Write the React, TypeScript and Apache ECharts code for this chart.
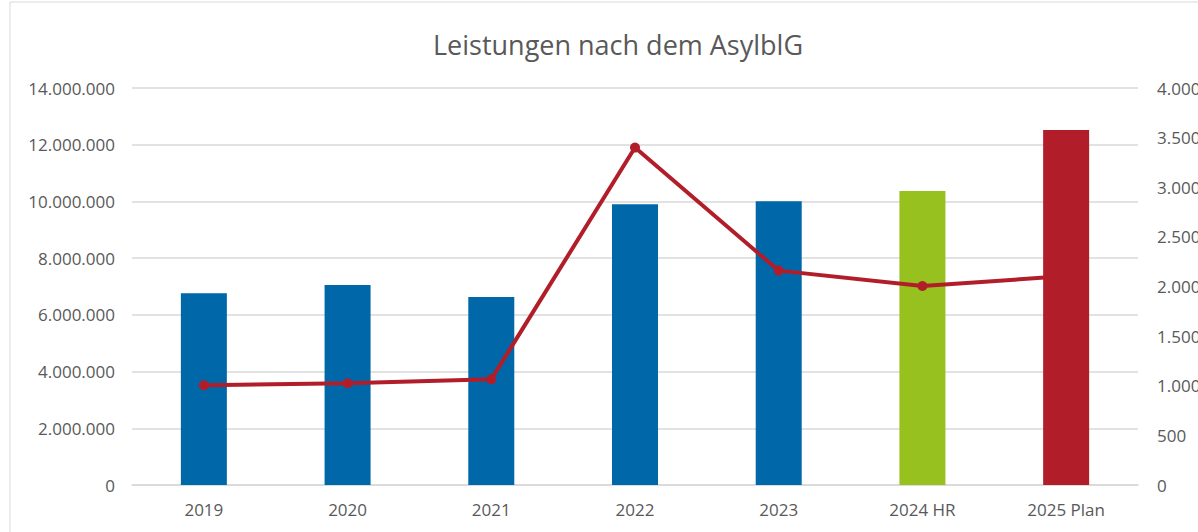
import React, { useEffect, useRef } from "react";
import * as echarts from "echarts";

const categories = ["2019", "2020", "2021", "2022", "2023", "2024 HR", "2025 Plan"];
const barValues = [6760000, 7050000, 6630000, 9900000, 10010000, 10370000, 12520000];
const barColors = ["#0068a8", "#0068a8", "#0068a8", "#0068a8", "#0068a8", "#97c11f", "#b11e2a"];
const lineValues = [1005, 1025, 1065, 3400, 2160, 2005, 2105];
const leftTicks = { min: 0, max: 14000000, interval: 2000000 };
const rightTicks = { min: 0, max: 4000, interval: 500 };
const title = "Leistungen nach dem AsylblG";

const fmt = (v: number) => String(Math.round(v)).replace(/\B(?=(\d{3})+(?!\d))/g, ".");

export default function App() {
  const ref = useRef<HTMLDivElement>(null);
  useEffect(() => {
    document.body.style.margin = "0";
    const chart = echarts.init(ref.current!, null, { renderer: "svg" });
    const lastIdx = categories.length - 1;
    const mainBars = barValues.map((v, i) =>
      i === lastIdx ? "-" : { value: v, itemStyle: { color: barColors[i] } }
    );
    const lastBar = barValues.map((v, i) =>
      i === lastIdx ? { value: v, itemStyle: { color: barColors[i] } } : "-"
    );
    const font = "'Open Sans', sans-serif";
    chart.setOption({
      animation: false,
      backgroundColor: "#ffffff",
      title: {
        text: title,
        left: 613,
        textAlign: "center",
        top: 26,
        textStyle: { fontFamily: font, fontSize: 27, fontWeight: "normal", color: "#595959" },
      },
      graphic: [
        {
          type: "rect",
          shape: { x: 10, y: 2, width: 1400, height: 700 },
          style: { fill: "none", stroke: "#d9d9d9", lineWidth: 1 },
          silent: true,
        },
      ],
      grid: { left: 132, right: 60, top: 88, bottom: 47, outerBoundsMode: "none", containLabel: false },
      xAxis: {
        type: "category",
        data: categories,
        axisTick: { show: false },
        axisLine: { show: true, lineStyle: { color: "#d9d9d9", width: 1.5 } },
        axisLabel: { fontFamily: font, fontSize: 17, color: "#595959", margin: 16 },
      },
      yAxis: [
        {
          type: "value",
          ...leftTicks,
          axisLine: { show: false },
          axisTick: { show: false },
          splitLine: { lineStyle: { color: "#d9d9d9", width: 1.5 } },
          axisLabel: { fontFamily: font, fontSize: 17, color: "#595959", margin: 17, formatter: fmt },
        },
        {
          type: "value",
          ...rightTicks,
          axisLine: { show: false },
          axisTick: { show: false },
          splitLine: { show: false },
          axisLabel: { fontFamily: font, fontSize: 17, color: "#595959", margin: 19, formatter: fmt },
        },
      ],
      series: [
        {
          type: "bar",
          stack: "b",
          data: mainBars,
          barWidth: 46,
          z: 2,
        },
        {
          type: "bar",
          stack: "b",
          data: lastBar,
          barWidth: 46,
          z: 5,
        },
        {
          type: "line",
          yAxisIndex: 1,
          data: lineValues,
          z: 4,
          symbol: "circle",
          symbolSize: 10,
          lineStyle: { color: "#b11e2a", width: 4 },
          itemStyle: { color: "#b11e2a" },
        },
      ],
    });
    return () => chart.dispose();
  }, []);
  return <div ref={ref} style={{ width: 1198, height: 532 }} />;
}
